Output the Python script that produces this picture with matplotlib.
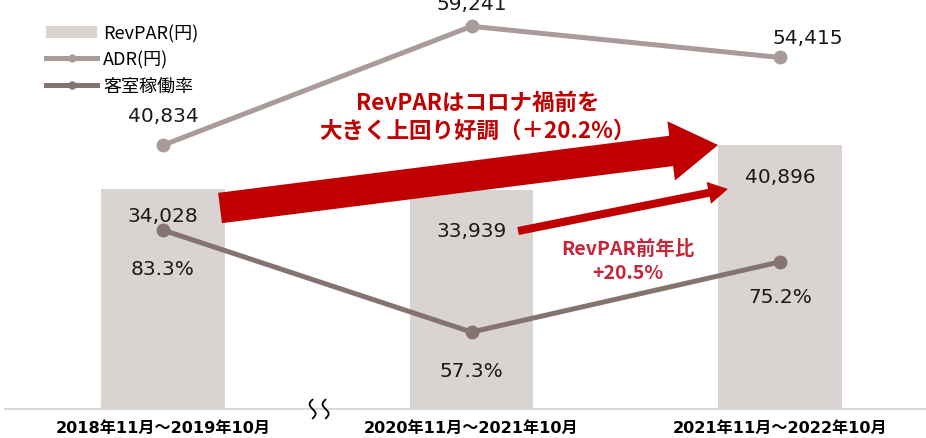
import matplotlib
matplotlib.use("Agg")
import numpy as np
import matplotlib.pyplot as plt
import matplotlib.transforms as mtransforms
from matplotlib.patches import FancyArrowPatch, Patch
from matplotlib.lines import Line2D

plt.rcParams['font.family'] = ['DejaVu Sans', 'Noto Sans CJK JP']

# ---- data ----
categories = ["2018年11月～2019年10月", "2020年11月～2021年10月", "2021年11月～2022年10月"]
revpar = [34028, 33939, 40896]
adr = [40834, 59241, 54415]
occupancy = [83.3, 57.3, 75.2]
series_names = ["RevPAR(円)", "ADR(円)", "客室稼働率"]
note_main = "RevPARはコロナ禍前を\n大きく上回り好調（＋20.2%）"
note_yoy = "RevPAR前年比\n+20.5%"

BAR_C = "#D9D4D1"
ADR_C = "#A99B99"
OCC_C = "#857370"
RED = "#C00000"
RED2 = "#C4263A"

W, H = 926, 439
fig = plt.figure(figsize=(W / 100, H / 100), dpi=100)
ax = fig.add_axes([5 / W, 29 / H, 921 / W, 410 / H])
ax2 = ax.twinx()

x = list(range(len(categories)))
ax.bar(x, revpar, width=0.40, color=BAR_C, zorder=1)
ax.plot(x, adr, color=ADR_C, lw=3.6, marker='o', ms=9, zorder=3)
ax2.plot(x, occupancy, color=OCC_C, lw=3.6, marker='o', ms=9, zorder=3)

ax.set_xlim(-0.512, 2.473)
ax.set_ylim(0, 63467)
ax2.set_ylim(37.7, 142.2)

for a in (ax, ax2):
    for s in ('top', 'right', 'left'):
        a.spines[s].set_visible(False)
    a.set_yticks([])
ax2.spines['bottom'].set_visible(False)
ax.spines['bottom'].set_color('#D9D9D9')
ax.spines['bottom'].set_linewidth(1.5)
ax.set_xticks(x)
ax.set_xticklabels(categories, fontsize=11.6, fontweight='bold',
                   family=['DejaVu Sans', 'Noto Sans CJK JP'])
ax.tick_params(axis='x', length=0, pad=8)

lab_kw = dict(textcoords='offset points', ha='center', va='center', fontsize=14.5, color='#1a1a1a')
# ADR labels
ax.annotate(f"{adr[0]:,}", (x[0], adr[0]), xytext=(0, 21.6), **lab_kw, annotation_clip=False)
ax.annotate(f"{adr[1]:,}", (x[1], adr[1]), xytext=(0, 16.5), **lab_kw, annotation_clip=False)
ax.annotate(f"{adr[2]:,}", (x[2], adr[2]), xytext=(20, 14.4), **lab_kw, annotation_clip=False)
# RevPAR labels
for i, dy in zip(x, (-18.7, -29.5, -23)):
    ax.annotate(f"{revpar[i]:,}", (x[i], revpar[i]), xytext=(0, dy), **lab_kw)
# occupancy labels
for i, dy in zip(x, (-28, -28, -25)):
    ax2.annotate(f"{occupancy[i]:.1f}%", (x[i], occupancy[i]), xytext=(0, dy), **lab_kw)

# arrows
big = FancyArrowPatch((0.185, 31115), (1.799, 40867),
                      arrowstyle="simple,head_length=34,head_width=43,tail_width=22",
                      mutation_scale=1, shrinkA=0, shrinkB=0, color=RED, lw=0, zorder=4)
ax.add_patch(big)
small = FancyArrowPatch((1.151, 27554), (1.831, 34056),
                        arrowstyle="simple,head_length=14,head_width=16,tail_width=5.8",
                        mutation_scale=1, shrinkA=0, shrinkB=0, color=RED, lw=0, zorder=4)
ax.add_patch(small)

ax.text(1.019, 45300, note_main, ha='center', va='center', fontsize=16.2,
        fontweight='bold', color=RED, linespacing=1.3,
        family=['Noto Sans CJK JP', 'DejaVu Sans'], zorder=5)
ax.text(1.507, 23000, note_yoy, ha='center', va='center', fontsize=14,
        fontweight='bold', color=RED2, linespacing=1.35,
        family=['Noto Sans CJK JP', 'DejaVu Sans'], zorder=5)

# axis break mark (two wavy strokes), drawn in inches around an anchor on the axis
anchor = mtransforms.ScaledTranslation(0.506, 0, ax.get_xaxis_transform())
trans = fig.dpi_scale_trans + anchor
t = np.linspace(-1, 1, 60)
for dx in (-0.065, 0.065):
    ax.plot(dx + 0.03 * np.sin(np.pi * t) * -1, t * 0.095, transform=trans,
            color='black', lw=1.3, clip_on=False, zorder=6, solid_capstyle='round')

handles = [Patch(facecolor=BAR_C, edgecolor='none'),
           Line2D([], [], color=ADR_C, lw=3.6, marker='o', ms=5),
           Line2D([], [], color=OCC_C, lw=3.6, marker='o', ms=5)]
leg = fig.legend(handles, series_names, loc='upper left', bbox_to_anchor=(46 / W, 1 - 25 / H),
                 frameon=False, handlelength=2.85, handleheight=0.6,
                 handletextpad=0.3, labelspacing=0.45, borderpad=0, borderaxespad=0,
                 prop={'family': ['Noto Sans CJK JP', 'DejaVu Sans'], 'size': 13})

fig.savefig("out.png", dpi=100)
